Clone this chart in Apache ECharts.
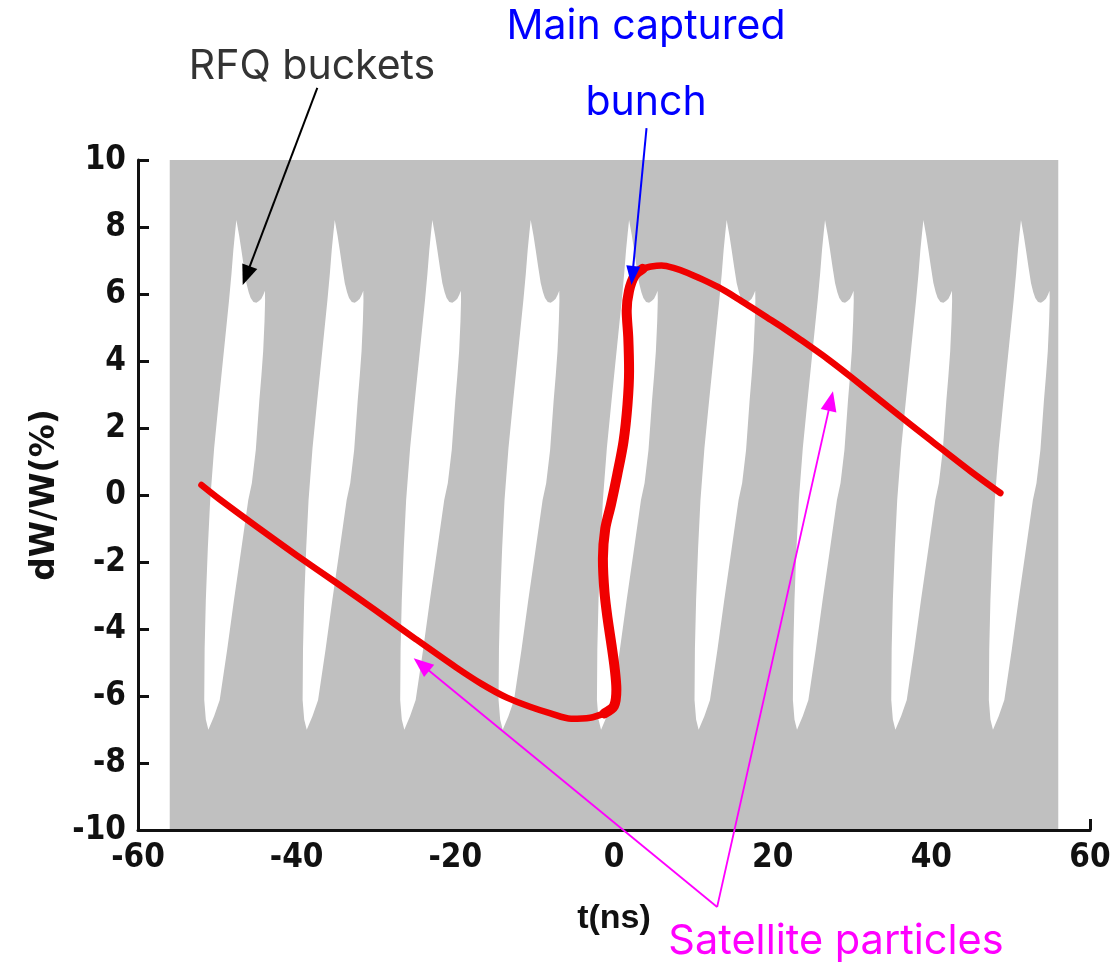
<!DOCTYPE html>
<html><head><meta charset="utf-8">
<script src="https://cdn.jsdelivr.net/npm/echarts@6/dist/echarts.min.js"></script>
<style>html,body{margin:0;padding:0;background:#fff}#c{width:1119px;height:966px}</style>
</head><body><div id="c"></div>
<script>
// ---------------- data ----------------
const xTicks = [-60, -40, -20, 0, 20, 40, 60];
const yTicks = [-10, -8, -6, -4, -2, 0, 2, 4, 6, 8, 10];
// RF (grey) region: [tMin, dWMin, tMax, dWMax]
const rfRegion = [-56, -10, 56, 10];
// time of the top tip of each RFQ bucket (ns)
const bucketTips = [-47.6, -35.2, -22.9, -10.5, 1.9, 14.2, 26.6, 39.0, 51.3];
// bucket outline: [t offset from tip (ns), dW/W (%)]
const bucketShape = [
  [0, 8.21], [0.35, 7.75], [0.63, 7.31], [0.95, 6.8], [1.26, 6.33], [1.55, 6.05],
  [1.8, 5.88], [2.15, 5.76], [2.52, 5.74], [2.85, 5.79], [3.15, 5.86], [3.4, 5.98],
  [3.6, 6.1], [3.62, 5.8], [3.55, 5.2], [3.38, 4.3], [3.15, 3.55], [2.9, 2.84],
  [2.45, 1.35], [1.95, 0.35], [1.5, -0.15], [0.6, -1.65], [-0.3, -3.13],
  [-1.15, -4.6], [-2.1, -6.12], [-2.8, -6.6], [-3.53, -7.01], [-3.85, -6.7],
  [-4.05, -6.12], [-4.0, -4.6], [-3.85, -3.13], [-3.6, -1.6], [-3.3, -0.15],
  [-2.8, 1.4], [-2.2, 2.84], [-1.55, 4.35], [-0.92, 5.82], [-0.62, 6.6],
  [-0.38, 7.31], [-0.18, 7.8]
];
// beam particles (red)
const leftArm = [
  [-52, 0.3], [-49.7, -0.13], [-45, -0.95], [-40, -1.8], [-35, -2.62],
  [-30, -3.45], [-25, -4.3], [-20, -5.13], [-16.75, -5.63], [-13.5, -6.05],
  [-10.5, -6.33], [-8, -6.52], [-5.4, -6.68], [-3, -6.65], [-1.2, -6.52]
];
const core = [
  [-1.2, -6.52], [0, -6.3], [0.3, -5.8], [0.1, -5.2], [-0.3, -4.5], [-0.8, -3.7],
  [-1.2, -2.9], [-1.4, -1.9], [-1.1, -1.0], [-0.4, -0.3], [0.4, 0.6], [1.2, 1.6],
  [1.7, 2.7], [1.9, 3.7], [1.8, 4.7], [1.6, 5.5], [1.9, 6.1], [2.6, 6.55], [3.6, 6.75]
];
const rightArm = [
  [3.6, 6.75], [4.7, 6.82], [6, 6.85], [7.5, 6.78], [9.3, 6.63], [11.2, 6.43],
  [13.1, 6.21], [15.2, 5.92], [17.25, 5.61], [19.3, 5.3], [21.4, 4.98], [23.5, 4.64],
  [27, 4.05], [30, 3.5], [35, 2.55], [40, 1.62], [45, 0.7], [48.7, 0.06]
];
// annotation arrows: [from, tip] in data coordinates
const rfqArrow = [[-37.4, 12.15], [-46.8, 6.27]];
const bunchArrow = [[4.1, 10.95], [2.2, 6.27]];
const satelliteFrom = [13.0, -12.3];
const satelliteTips = [[-25.25, -4.87], [27.6, 3.1]];

// ---------------- chart ----------------
const chart = echarts.init(document.getElementById('c'), null, {renderer: 'canvas'});
const tickFont = {fontFamily: '"Liberation Sans Narrow", "DejaVu Sans Condensed", "Liberation Sans", sans-serif', fontWeight: 'bold', fontSize: 33, color: '#111'};

chart.setOption({
  animation: false,
  backgroundColor: '#ffffff',
  grid: {left: 138, right: 29, top: 160, bottom: 136, containLabel: false},
  xAxis: {
    type: 'value', min: xTicks[0], max: xTicks[xTicks.length - 1], interval: 20, z: 10,
    name: 't(ns)', nameLocation: 'middle', nameGap: 72,
    nameTextStyle: {fontFamily: '"Liberation Sans", sans-serif', fontWeight: 'bold', fontSize: 34, color: '#111'},
    axisLine: {show: true, onZero: false, lineStyle: {color: '#111', width: 3}},
    axisTick: {show: true, inside: true, length: 11, lineStyle: {color: '#111', width: 3}, customValues: [xTicks[0], xTicks[xTicks.length - 1]]},
    axisLabel: Object.assign({margin: 12}, tickFont),
    splitLine: {show: false}
  },
  yAxis: {
    type: 'value', min: yTicks[0], max: yTicks[yTicks.length - 1], interval: 2, z: 10,
    name: 'dW/W(%)', nameLocation: 'middle', nameGap: 69, nameRotate: 90,
    nameTextStyle: {fontFamily: '"DejaVu Sans", sans-serif', fontWeight: 'bold', fontSize: 33, color: '#111'},
    axisLine: {show: true, onZero: false, lineStyle: {color: '#111', width: 3}},
    axisTick: {show: true, inside: true, length: 11, lineStyle: {color: '#111', width: 3}},
    axisLabel: Object.assign({margin: 12}, tickFont),
    splitLine: {show: false}
  },
  series: [
    {
      type: 'custom', z: 1, silent: true,
      data: [rfRegion],
      encode: {x: [0, 2], y: [1, 3]},
      renderItem: function (params, api) {
        const p0 = api.coord([api.value(0), api.value(3)]);
        const p1 = api.coord([api.value(2), api.value(1)]);
        return {type: 'rect', shape: {x: p0[0], y: p0[1], width: p1[0] - p0[0], height: p1[1] - p0[1]}, style: {fill: '#c0c0c0'}};
      }
    },
    {
      type: 'custom', z: 2, silent: true,
      data: bucketTips.map(t => [t, 0]),
      encode: {x: 0, y: 1},
      renderItem: function (params, api) {
        const t = api.value(0);
        const pts = bucketShape.map(p => api.coord([t + p[0], p[1]]));
        return {type: 'polygon', shape: {points: pts}, style: {fill: '#ffffff'}};
      }
    },
    {type: 'line', z: 3, data: leftArm, showSymbol: false, smooth: 0.3, silent: true,
     lineStyle: {color: '#f00000', width: 6.5, cap: 'round', join: 'round'}},
    {type: 'line', z: 3, data: rightArm, showSymbol: false, smooth: 0.3, silent: true,
     lineStyle: {color: '#f00000', width: 6.5, cap: 'round', join: 'round'}},
    {type: 'line', z: 4, data: core, showSymbol: false, smooth: 0.3, silent: true,
     lineStyle: {color: '#f00000', width: 10, cap: 'round', join: 'round'}}
  ]
});

function px(p) { return chart.convertToPixel({gridIndex: 0}, p); }
function arrow(from, tip, color, lw, hl, hw) {
  const a = px(from), b = px(tip);
  const dx = b[0] - a[0], dy = b[1] - a[1];
  const len = Math.sqrt(dx * dx + dy * dy);
  const ux = dx / len, uy = dy / len;
  const bx = b[0] - ux * hl, by = b[1] - uy * hl;
  const nx = -uy, ny = ux;
  return [
    {type: 'line', z: 20, shape: {x1: a[0], y1: a[1], x2: bx + ux * 2, y2: by + uy * 2}, style: {stroke: color, lineWidth: lw}},
    {type: 'polygon', z: 20, shape: {points: [[b[0], b[1]], [bx + nx * hw / 2, by + ny * hw / 2], [bx - nx * hw / 2, by - ny * hw / 2]]}, style: {fill: color}}
  ];
}
const annFont = '"Inter", "Roboto", sans-serif';
function label(text, x, y, color, size) {
  return {type: 'text', z: 20, x: x, y: y, style: {text: text, fill: color, font: '400 ' + size + 'px ' + annFont, textAlign: 'center', textVerticalAlign: 'middle'}};
}
let g = [];
g = g.concat(arrow(rfqArrow[0], rfqArrow[1], '#000000', 2, 20, 16));
g = g.concat(arrow(bunchArrow[0], bunchArrow[1], '#0000ff', 2, 19, 14));
satelliteTips.forEach(t => { g = g.concat(arrow(satelliteFrom, t, '#ff00ff', 1.8, 20, 16)); });
g.push(label('RFQ buckets', 312, 67, '#333333', 41));
g.push(label('Main captured', 646, 27, '#0000ff', 41));
g.push(label('bunch', 646, 103, '#0000ff', 41));
g.push(label('Satellite particles', 836, 942, '#ff00ff', 41.5));
chart.setOption({graphic: {elements: g}});
</script>
</body></html>
